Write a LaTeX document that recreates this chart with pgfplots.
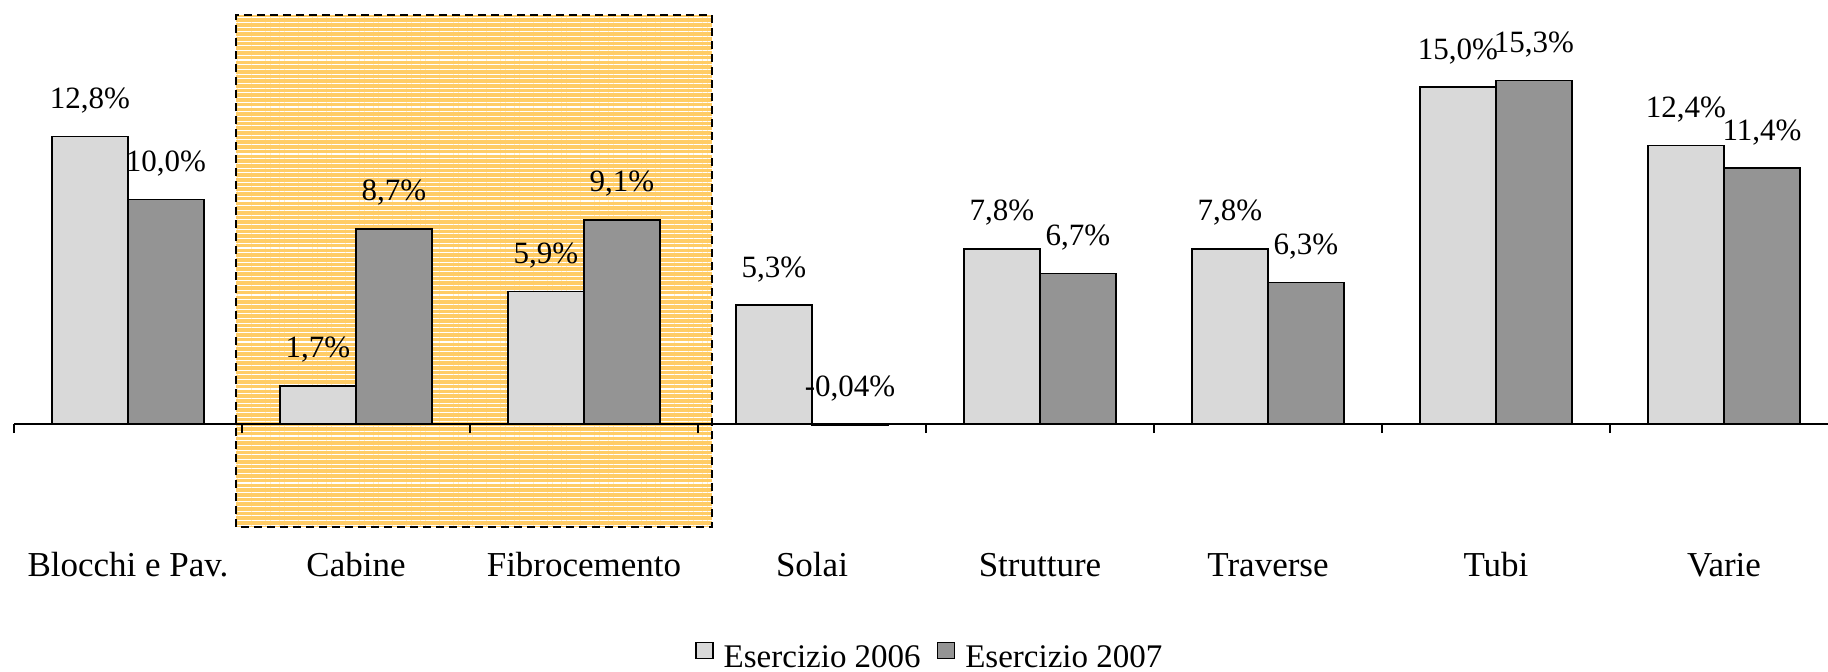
\documentclass[border=0pt]{standalone}
\usepackage{fontspec}
\setmainfont{Liberation Serif}
\usepackage{pgfplots}
\usepackage{pgfplotstable}
\pgfplotsset{compat=1.18}
\usetikzlibrary{patterns.meta}
\definecolor{light}{RGB}{217,217,217}
\definecolor{dark}{RGB}{148,148,148}
\definecolor{hl}{RGB}{255,204,102}

\pgfplotstableread{
x y lab
0 12.8 {12,8\%}
1 1.7 {1,7\%}
2 5.9 {5,9\%}
3 5.3 {5,3\%}
4 7.8 {7,8\%}
5 7.8 {7,8\%}
6 15.0 {15,0\%}
7 12.4 {12,4\%}
}\tsix
\pgfplotstableread{
x y lab
0 10.0 {10,0\%}
1 8.7 {8,7\%}
2 9.1 {9,1\%}
3 -0.04 {-0,04\%}
4 6.7 {6,7\%}
5 6.3 {6,3\%}
6 15.3 {15,3\%}
7 11.4 {11,4\%}
}\tseven

\begin{document}
\fontsize{16}{19}\selectfont
\begin{tikzpicture}
\begin{axis}[
  at={(7pt,70.7425pt)}, anchor=south west,
  scale only axis, width=912pt, height=258.175pt,
  xmin=-0.5, xmax=7.5, ymin=-4.7, ymax=18.3,
  clip=false, set layers,
  axis y line=none, axis x line=middle,
  axis line style={-, black, line width=1pt},
  xtick={-0.5,0.5,...,6.5}, xticklabels={},
  tick align=outside, major tick length=4.5pt,
  xtick style={black, line width=1pt},
  extra x ticks={0,1,2,3,4,5,6,7},
  extra x tick labels={Blocchi e Pav.,Cabine,Fibrocemento,Solai,Strutture,Traverse,Tubi,Varie},
  extra x tick style={major tick length=0pt, tick label style={anchor=base, yshift=-76.1pt, font=\fontsize{17.5}{20}\selectfont}},
  ybar=0pt, bar width=0.3333,
  point meta=explicit symbolic,
  nodes near coords,
  nodes near coords style={anchor=base, yshift=14pt, font=\fontsize{15.5}{18}\selectfont, inner sep=0pt},
  legend style={draw=none, fill=none, legend columns=-1, at={(axis description cs:0.5026,-0.292)}, anchor=south,
    font=\fontsize{16.5}{19}\selectfont,
    /tikz/every odd column/.append style={column sep=3pt},
    /tikz/every even column/.append style={column sep=6pt}},
  legend image code/.code={\draw[#1, line width=0.8pt] (0pt,0pt) rectangle (8.5pt,8pt);},
]
\begin{pgfonlayer}{axis background}
\fill[hl] (axis cs:0.474,-4.59) rectangle (axis cs:2.561,18.22);
\fill[pattern={Lines[distance=2.35pt, angle=0, line width=0.55pt]}, pattern color=white] (axis cs:0.474,-4.59) rectangle (axis cs:2.561,18.22);
\draw[black, line width=0.85pt, dash pattern=on 4pt off 2.5pt] (axis cs:0.474,-4.59) rectangle (axis cs:2.561,18.22);
\end{pgfonlayer}
\addplot[draw=black, line width=0.85pt, fill=light] table[x=x, y=y, meta=lab] {\tsix};
\addplot[draw=black, line width=0.85pt, fill=dark] table[x=x, y=y, meta=lab] {\tseven};
\legend{Esercizio 2006, Esercizio 2007}
\end{axis}
\pgfresetboundingbox
\path[use as bounding box] (0,0) rectangle (914pt,335.5pt);
\end{tikzpicture}
\end{document}
